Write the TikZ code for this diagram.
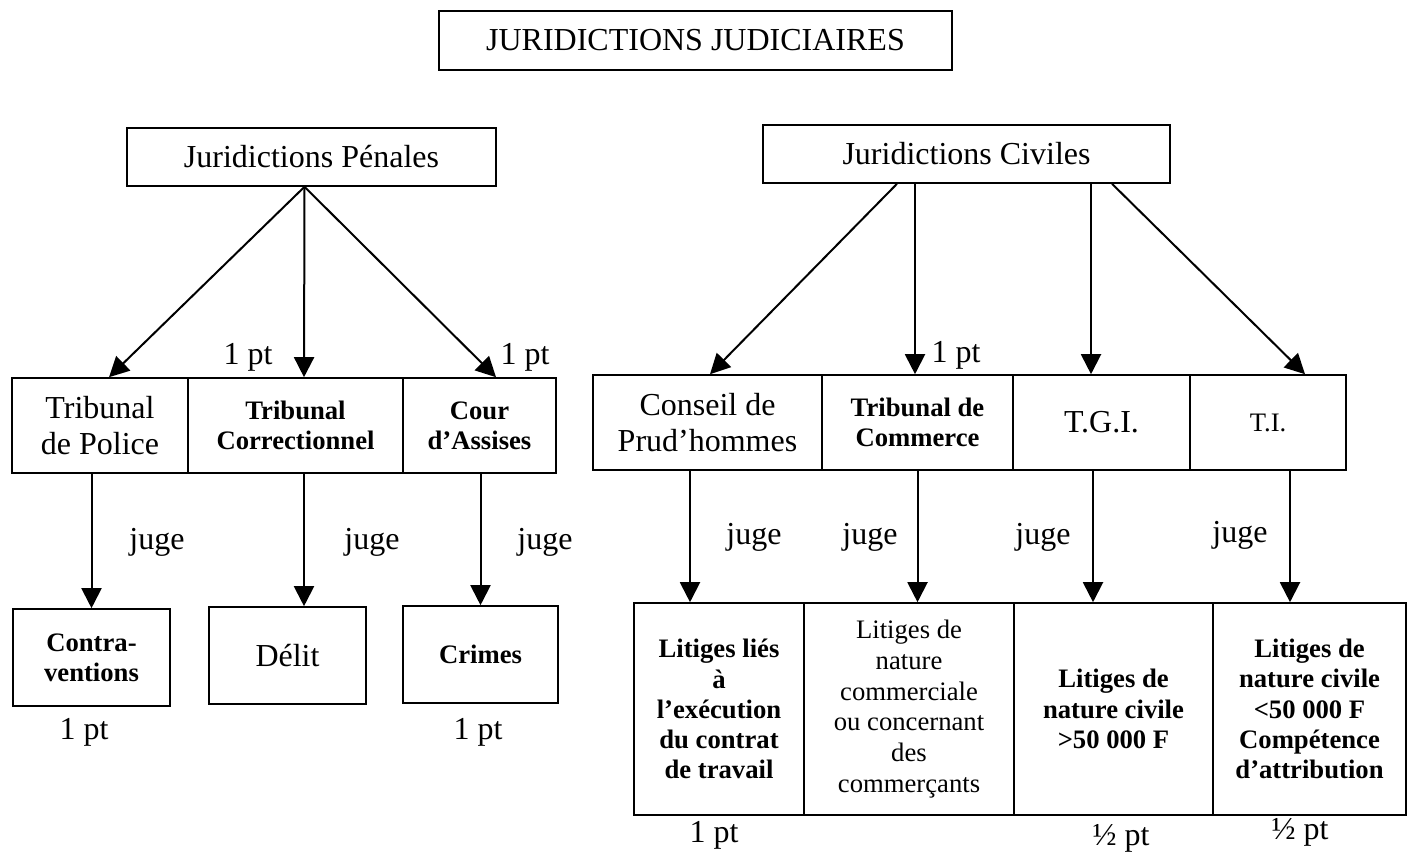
\documentclass[tikz,border=0pt]{standalone}
\usepackage{fontspec}
\setmainfont{Liberation Serif}
\usetikzlibrary{
		calc,
		positioning,
		arrows.meta
	}
\tikzset{
		>={Triangle[width=7.5pt,length=7.5pt]}
	}
\tikzset{
		box/.style 2 args={draw, line width=0.6pt, align=center, inner sep=1pt, minimum width=#1*0.375pt, minimum height=#2*0.375pt, font=\fontsize{12}{13.8}\selectfont},
		bbox/.style 2 args={box={#1}{#2}, font=\fontsize{10}{11.3}\selectfont\bfseries},
		sbox/.style 2 args={box={#1}{#2}, font=\fontsize{10}{11.5}\selectfont},
		fleche/.style={->, line width=0.75pt},
		lbl/.style={font=\fontsize{12}{13.8}\selectfont, inner sep=0pt}
	}

\begin{document}
\begin{tikzpicture}[x=0.375pt, y=-0.375pt]
		\useasboundingbox (0,0) rectangle (1410,854);
		% niveau 1 et 2
		\node[box={513}{59}] (judic) at (695.5,40.5) {JURIDICTIONS JUDICIAIRES};
		\node[box={369}{58}] (penal) at (311.5,157) {Juridictions Pénales};
		\node[box={407}{58}] (civil) at (966.5,154) {Juridictions Civiles};
		% tribunaux
		\node[box={176}{95}] (tp) at (100,425.5) {Tribunal\\de Police};
		\node[bbox={215}{95}] (tc) at (295.5,425.5) {Tribunal\\Correctionnel};
		\node[bbox={153}{95}] (ca) at (479.5,425.5) {Cour\\d’Assises};
		\node[box={229}{95}] (cp) at (707.5,422.5) {Conseil de\\Prud’hommes};
		\node[bbox={191}{95}] (tcom) at (917.5,422.5) {Tribunal de\\Commerce};
		\node[box={177}{95}] (tgi) at (1101.5,422.5) {T.G.I.};
		\node[sbox={156}{95}] (ti) at (1268,422.5) {T.I.};
		% ce qu'ils jugent
		\node[bbox={157}{97}] (contra) at (91.5,657.5) {Contra-\\ventions};
		\node[box={157}{97}] (delit) at (287.5,655.5) {Délit};
		\node[bbox={155}{97}] (crimes) at (480.5,654.5) {Crimes};
		\node[bbox={170}{212}] (lt) at (719,709) {Litiges liés\\à\\l’exécution\\du contrat\\de travail};
		\node[sbox={210}{212}] (lc) at (909,709) {Litiges de\\nature\\commerciale\\ou concernant\\des\\commerçants};
		\node[bbox={199}{212}] (lsup) at (1113.5,709) {Litiges de\\nature civile\\>50 000 F};
		\node[bbox={193}{212}] (linf) at (1309.5,709) {Litiges de\\nature civile\\<50 000 F\\Compétence\\d’attribution};
		% fleches
		\draw[fleche] ($(penal.south)+(-7,0)$) -- ($(tp.north)+(9,0)$);
		\draw[fleche] ($(penal.south)+(-7,0)$) -- ($(tc.north)+(8.5,0)$);
		\draw[fleche] ($(penal.south)+(-7,0)$) -- ($(ca.north)+(16.5,0)$);
		\draw[fleche] ($(civil.south)+(-69.5,0)$) -- ($(cp.north)+(2.5,0)$);
		\draw[fleche] ($(civil.south)+(-51.5,0)$) -- ($(tcom.north)+(-2.5,0)$);
		\draw[fleche] ($(civil.south)+(124.5,0)$) -- ($(tgi.north)+(-10.5,0)$);
		\draw[fleche] ($(civil.south)+(145.5,0)$) -- ($(ti.north)+(37,0)$);
		\draw[fleche] (contra.north |- tp.south) -- (contra.north);
		\draw[fleche] ($(tc.south)+(8.5,0)$) -- ($(delit.north)+(16.5,0)$);
		\draw[fleche] (crimes.north |- ca.south) -- (crimes.north);
		\draw[fleche] ($(cp.south)+(-17.5,0)$) -- ($(lt.north)+(-29,0)$);
		\draw[fleche] (tcom.south) -- (tcom.south |- lc.north);
		\draw[fleche] ($(tgi.south)+(-8.5,0)$) -- ($(lsup.north)+(-20.5,0)$);
		\draw[fleche] ($(ti.south)+(22,0)$) -- ($(linf.north)+(-19.5,0)$);
		% textes
		\node[lbl] (pt1) at (248,357) {1 pt};
		\node[lbl] (pt2) at (525,357) {1 pt};
		\node[lbl] (pt3) at (956,355) {1 pt};
		\node[lbl] (juge1) at (157,542) {juge};
		\node[lbl] (juge2) at (372,542) {juge};
		\node[lbl] (juge3) at (545,542) {juge};
		\node[lbl] (juge4) at (754,537) {juge};
		\node[lbl] (juge5) at (870,537) {juge};
		\node[lbl] (juge6) at (1043,537) {juge};
		\node[lbl] (juge7) at (1240,535) {juge};
		\node[lbl] (pt4) at (84,732) {1 pt};
		\node[lbl] (pt5) at (478,732) {1 pt};
		\node[lbl] (pt6) at (714,835) {1 pt};
		\node[lbl] (pt7) at (1121,838) {½ pt};
		\node[lbl] (pt8) at (1300,832) {½ pt};
	\end{tikzpicture}
\end{document}
